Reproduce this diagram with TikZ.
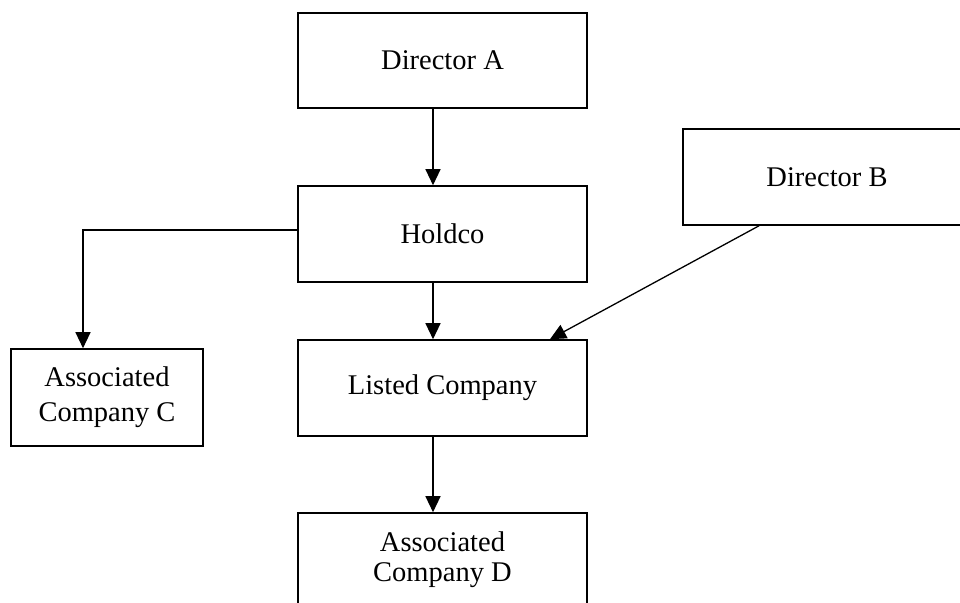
\documentclass[tikz,border=0pt]{standalone}
\usepackage{fontspec}
\setmainfont{Liberation Serif}
\usetikzlibrary{arrows.meta,calc}
\begin{document}
\begin{tikzpicture}[x=1pt,y=-1pt,
  box/.style={draw, line width=1.6pt, rectangle, inner sep=0pt, align=center,
    font=\fontsize{28.5}{35}\selectfont},
  conn/.style={line width=1.3pt, -{Triangle[length=16pt,width=15pt]}}
]
\clip (0,0) rectangle (960,602);
\fill[white] (0,0) rectangle (960,602);
\node[box, minimum width=289pt, minimum height=95pt] (dira) at (442.5,60.5) {Director A};
\node[box, minimum width=289pt, minimum height=96pt] (holdco) at (442.5,234) {Holdco};
\node[box, minimum width=288pt, minimum height=96pt] (dirb) at (827,177) {Director B};
\node[box, minimum width=289pt, minimum height=96pt] (listed) at (442.5,388) {Listed Company};
\node[box, minimum width=192pt, minimum height=97pt] (assocc) at (107,397.5) {Associated\\Company C};
\node[box, minimum width=289pt, minimum height=93pt, font=\fontsize{28.5}{30}\selectfont] (assocd) at (442.5,559.5) {Associated\\Company D};
\coordinate (ax) at (433,0);
\coordinate (cx) at (83,0);
\coordinate (cy) at (0,230);
\coordinate (bs) at (759,0);
\coordinate (le) at (550,0);
\draw[conn] (dira.south -| ax) -- (holdco.north -| ax);
\draw[conn] (holdco.south -| ax) -- (listed.north -| ax);
\draw[conn] (listed.south -| ax) -- (assocd.north -| ax);
\draw[conn] (holdco.west |- cy) -| (assocc.north -| cx);
\draw[conn] (dirb.south -| bs) -- (listed.north -| le);
\end{tikzpicture}
\end{document}
